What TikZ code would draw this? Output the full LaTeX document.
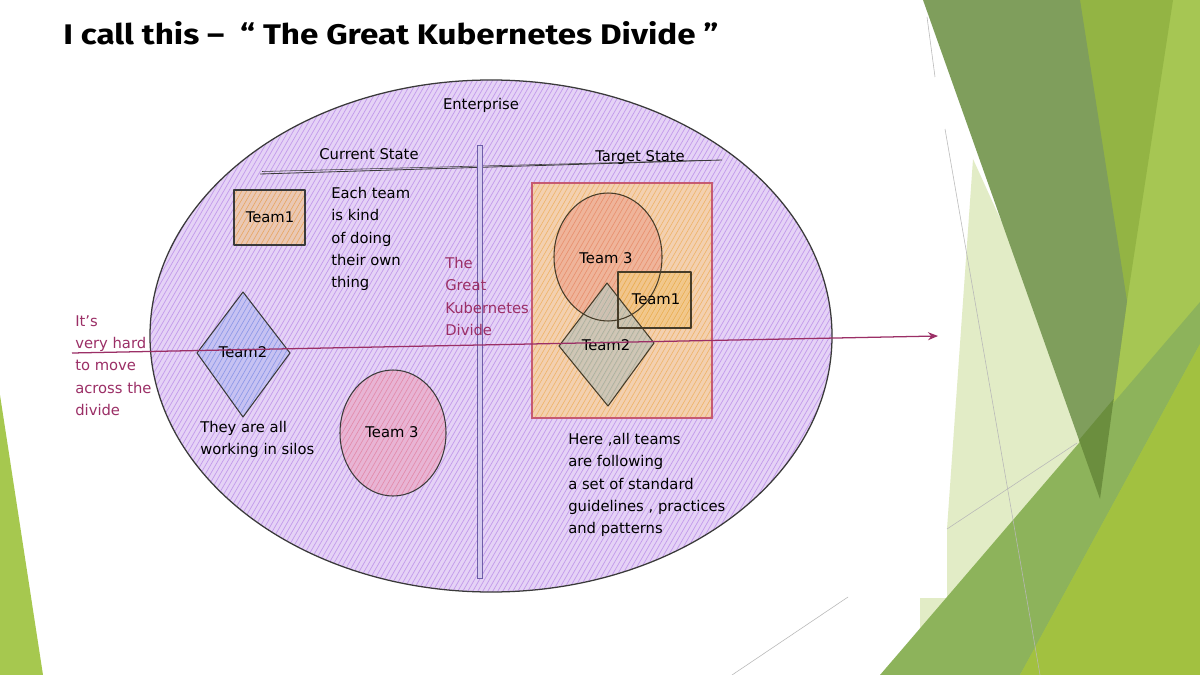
\documentclass[tikz,border=0pt]{standalone}
\usepackage{fontspec}
\setmainfont{DejaVu Sans}
\newfontfamily\titlefont{Fira Sans}
\usetikzlibrary{arrows.meta}
\definecolor{inkc}{HTML}{3A3A3A}
\definecolor{lav}{HTML}{E5D2F6}
\definecolor{lavline}{HTML}{C29AEB}
\definecolor{mag}{HTML}{9B2F66}
\definecolor{divc}{HTML}{6E5FA8}
\definecolor{divfill}{HTML}{D6CAF0}
\definecolor{boxred}{HTML}{C65A72}
\definecolor{gOlive}{HTML}{7F9E5C}
\definecolor{gMed}{HTML}{93B444}
\definecolor{gLime}{HTML}{A6C653}
\definecolor{gPale}{HTML}{E2ECC6}
\definecolor{gBand}{HTML}{8DB35B}
\definecolor{gDark}{HTML}{6B8E3E}
\definecolor{gLime2}{HTML}{A2C140}
\definecolor{gLeft}{HTML}{A6C84F}
\definecolor{tOneFill}{RGB}{234,200,180}
\definecolor{tOneLine}{RGB}{232,166,100}
\definecolor{tTwoFill}{RGB}{198,194,242}
\definecolor{tTwoLine}{RGB}{140,150,232}
\definecolor{tThreeFill}{RGB}{232,180,212}
\definecolor{tThreeLine}{RGB}{226,138,170}
\definecolor{boxFill}{RGB}{243,208,176}
\definecolor{boxLine}{RGB}{239,180,106}
\definecolor{gThreeFill}{RGB}{239,180,154}
\definecolor{gThreeLine}{RGB}{232,144,110}
\definecolor{gOneFill}{RGB}{242,200,138}
\definecolor{gOneLine}{RGB}{234,174,80}
\definecolor{gTwoFill}{RGB}{201,197,184}
\definecolor{gTwoLine}{RGB}{170,176,160}
\definecolor{inkb}{RGB}{70,60,40}
\newcommand\hach[4]{\begin{scope}\clip #1;\foreach \k in {0,...,#3}{\draw[#4] ({#2+5*\k},700) -- ++(404,-700);}\end{scope}}
\begin{document}
\begin{tikzpicture}[x=0.025cm,y=-0.025cm,
  shapeline/.style={draw=inkc, line width=0.75pt, line join=round},
  hand/.style={font=\fontsize{10.5}{15.9}\selectfont, inner sep=0, text=black},
  handblock/.style={hand, align=left, anchor=north west},
  redhand/.style={text=mag},
  thin grey/.style={draw=black!28, line width=0.4pt}]
\useasboundingbox (0,0) rectangle (1200,675);
\fill[white] (0,0) rectangle (1200,675);
% ---- slide decoration
\fill[gLeft] (0,395) -- (43,675) -- (0,675) -- cycle;
\fill[gLime] (1080,0) -- (1200,0) -- (1200,675) -- (1020,675) -- (1100,499) -- cycle;
\fill[gMed] (1080,0) -- (1173,0) -- (1127,301) -- (1100,499) -- cycle;
\fill[gPale] (973,159) -- (1110,460) -- (905,690) -- (920,640) -- (920,598) -- (947,598) -- (947,529) -- cycle;
\fill[gOlive] (923,0) -- (1080,0) -- (1127,301) -- (1100,499) -- cycle;
\fill[gBand] (880,675) -- (1200,302) -- (1200,344) -- (1020,675) -- cycle;
\fill[gDark] (1079,440) -- (1113.6,399) -- (1100,499) -- cycle;
\fill[gLime2] (1020,675) -- (1200,344) -- (1200,675) -- cycle;
\draw[thin grey] (927,17) -- (935,77);
\draw[thin grey] (945,129) -- (1040,675);
\draw[thin grey] (947,529) -- (1077,443);
\draw[thin grey] (848,597) -- (732,675);
% ---- title
\node[anchor=base west, inner sep=0] (title) at (63,45)
  {\resizebox{16.375cm}{0.575cm}{\titlefont\bfseries I call this –\ \ “ The Great Kubernetes Divide ”}};
% ---- enterprise ellipse
\fill[lav] (491,336) ellipse [x radius=341, y radius=256];
\hach{(491,336) ellipse [x radius=341, y radius=256]}{-210}{200}{lavline, line width=0.5pt}
\draw[shapeline, line width=0.9pt] (491,336) ellipse [x radius=341, y radius=256];
\node[hand] (enterprise) at (481,105) {Enterprise};
% header line and divider
\draw[inkc, line width=0.6pt] (260,174) -- (722,160);
\draw[inkc, line width=0.4pt] (262,171.5) -- (700,160.5);
\node[hand, anchor=base] (current) at (369,160) {Current State};
\node[hand, anchor=base] (target) at (640,162) {Target State};
\filldraw[fill=divfill, draw=divc, line width=0.6pt] (477,145) rectangle (482,578);
% ---- current state shapes
\fill[tOneFill] (234,190) rectangle (305,245);
\hach{(234,190) rectangle (305,245)}{-62}{22}{tOneLine, line width=0.45pt}
\draw[shapeline] (234,190) rectangle (305,245);
\node[hand] (t1cur) at (270,217) {Team1};
\fill[tTwoFill] (243,292) -- (290,353) -- (243,417) -- (197,353) -- cycle;
\hach{(243,292) -- (290,353) -- (243,417) -- (197,353) -- cycle}{-40}{34}{tTwoLine, line width=0.45pt}
\draw[shapeline] (243,292) -- (290,353) -- (243,417) -- (197,353) -- cycle;
\node[hand] (t2cur) at (243,352) {Team2};
\fill[tThreeFill] (393,433) ellipse [x radius=53, y radius=63];
\hach{(393,433) ellipse [x radius=53, y radius=63]}{148}{37}{tThreeLine, line width=0.45pt}
\draw[shapeline] (393,433) ellipse [x radius=53, y radius=63];
\node[hand] (t3cur) at (392,432) {Team 3};
\node[handblock] (note1) at (331,187) {Each team\\is kind\\of doing\\their own\\thing};
\node[handblock] (silos) at (200,421) {They are all\\working in silos};
\node[handblock, redhand] (divide) at (445,257) {The\\Great\\Kubernetes\\Divide};
\node[handblock, redhand] (hard) at (75,315) {It's\\very hard\\to move\\across the\\divide};
% ---- target state shapes: fills first, outlines after
\fill[boxFill] (532,183) rectangle (712,418);
\hach{(532,183) rectangle (712,418)}{232}{64}{boxLine, line width=0.45pt}
\draw[draw=boxred, line width=0.75pt] (532,183) rectangle (712,418);
\fill[gThreeFill] (608,257) ellipse [x radius=54, y radius=64];
\hach{(608,257) ellipse [x radius=54, y radius=64]}{259}{38}{gThreeLine, line width=0.45pt}
\fill[gOneFill, opacity=0.85] (618,272) rectangle (691,328);
\hach{(618,272) rectangle (691,328)}{369}{22}{gOneLine, line width=0.45pt}
\fill[gTwoFill, opacity=0.85] (607,283) -- (654,343) -- (608,406) -- (559,346) -- cycle;
\hach{(607,283) -- (654,343) -- (608,406) -- (559,346) -- cycle}{316}{35}{gTwoLine, line width=0.45pt}
\draw[shapeline, draw=inkb] (608,257) ellipse [x radius=54, y radius=64];
\draw[shapeline, draw=inkb] (618,272) rectangle (691,328);
\draw[shapeline, draw=inkb] (607,283) -- (654,343) -- (608,406) -- (559,346) -- cycle;
\node[hand] (t3tgt) at (606,258) {Team 3};
\node[hand] (t1tgt) at (656,299) {Team1};
\node[hand] (t2tgt) at (606,345) {Team2};
\node[handblock] (here) at (568,433) {Here ,all teams\\are following\\a set of standard\\guidelines , practices\\and patterns};
% ---- arrow across the divide
\coordinate (arrowstart) at (72,353);
\coordinate (arrowend) at (938,336);
\draw[mag, line width=0.9pt, -{Stealth[length=2.5mm, width=2mm]}] (arrowstart) -- (arrowend);
\end{tikzpicture}
\end{document}
